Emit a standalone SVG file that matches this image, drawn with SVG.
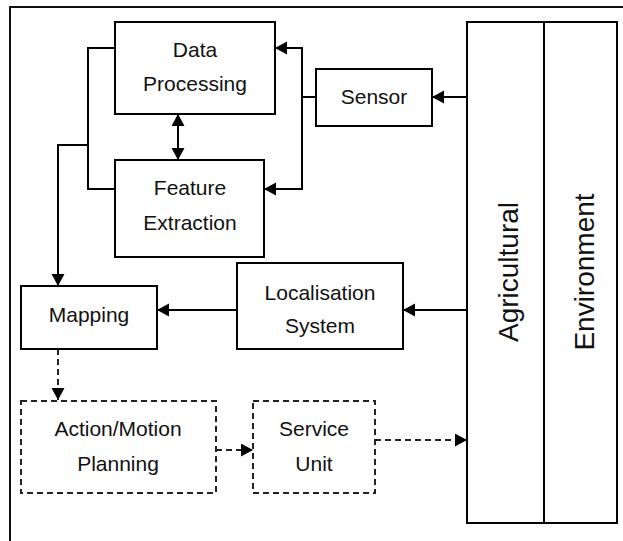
<svg xmlns="http://www.w3.org/2000/svg" width="623" height="541" viewBox="0 0 623 541">
<defs>
<style>
.box{fill:#fff;stroke:#000;stroke-width:2}
.dbox{fill:#fff;stroke:#222;stroke-width:2;stroke-dasharray:6,4}
.ln{fill:none;stroke:#000;stroke-width:2}
.dl{fill:none;stroke:#222;stroke-width:2;stroke-dasharray:6,4}
text{font-family:"Liberation Sans",Arial,sans-serif;font-size:21px;fill:#111;text-anchor:middle}
.big{font-size:28px}
</style>
<marker id="ah" markerUnits="userSpaceOnUse" markerWidth="13" markerHeight="14" refX="12" refY="6.5" orient="auto-start-reverse">
<path d="M0,0 L12,6.5 L0,13 z" fill="#000"/>
</marker>
</defs>
<rect x="10" y="7" width="630" height="560" fill="none" stroke="#111" stroke-width="2"/>
<g id="connectors">
<polyline class="ln" points="115,48 88,48 88,189 115,189"/>
<polyline class="ln" points="88,145 58,145 58,286" marker-end="url(#ah)"/>
<line class="ln" x1="178" y1="114" x2="178" y2="160" marker-start="url(#ah)" marker-end="url(#ah)"/>
<polyline class="ln" points="302,97 302,48 275,48" marker-end="url(#ah)"/>
<polyline class="ln" points="302,97 302,189 264,189" marker-end="url(#ah)"/>
<line class="ln" x1="316" y1="97" x2="302" y2="97"/>
<line class="ln" x1="467" y1="97" x2="432" y2="97" marker-end="url(#ah)"/>
<line class="ln" x1="467" y1="310" x2="403" y2="310" marker-end="url(#ah)"/>
<line class="ln" x1="237" y1="310" x2="157" y2="310" marker-end="url(#ah)"/>
<line class="dl" x1="58" y1="349" x2="58" y2="400" marker-end="url(#ah)"/>
<line class="dl" x1="216" y1="450" x2="253" y2="450" marker-end="url(#ah)"/>
<line class="dl" x1="375" y1="440" x2="467" y2="440" marker-end="url(#ah)"/>
</g>
<g id="data-processing">
<rect class="box" x="115" y="22" width="160" height="92"/>
<text x="195" y="57">Data</text>
<text x="195" y="91">Processing</text>
</g>
<g id="feature-extraction">
<rect class="box" x="115" y="160" width="149" height="97"/>
<text x="190" y="195">Feature</text>
<text x="190" y="230">Extraction</text>
</g>
<g id="sensor">
<rect class="box" x="316" y="69" width="116" height="57"/>
<text x="374" y="104">Sensor</text>
</g>
<g id="mapping">
<rect class="box" x="21" y="286" width="136" height="63"/>
<text x="89" y="322">Mapping</text>
</g>
<g id="localisation">
<rect class="box" x="237" y="263" width="166" height="86"/>
<text x="320" y="300">Localisation</text>
<text x="320" y="333">System</text>
</g>
<g id="action-motion">
<rect class="dbox" x="21" y="401" width="195" height="92"/>
<text x="118" y="436">Action/Motion</text>
<text x="118" y="471">Planning</text>
</g>
<g id="service-unit">
<rect class="dbox" x="253" y="401" width="122" height="92"/>
<text x="314" y="436">Service</text>
<text x="314" y="471">Unit</text>
</g>
<g id="agricultural">
<rect class="box" x="467" y="22" width="77" height="501"/>
<text class="big" transform="translate(518,272) rotate(-90)">Agricultural</text>
</g>
<g id="environment">
<rect class="box" x="544" y="22" width="73" height="501"/>
<text class="big" transform="translate(594,272) rotate(-90)">Environment</text>
</g>
</svg>
